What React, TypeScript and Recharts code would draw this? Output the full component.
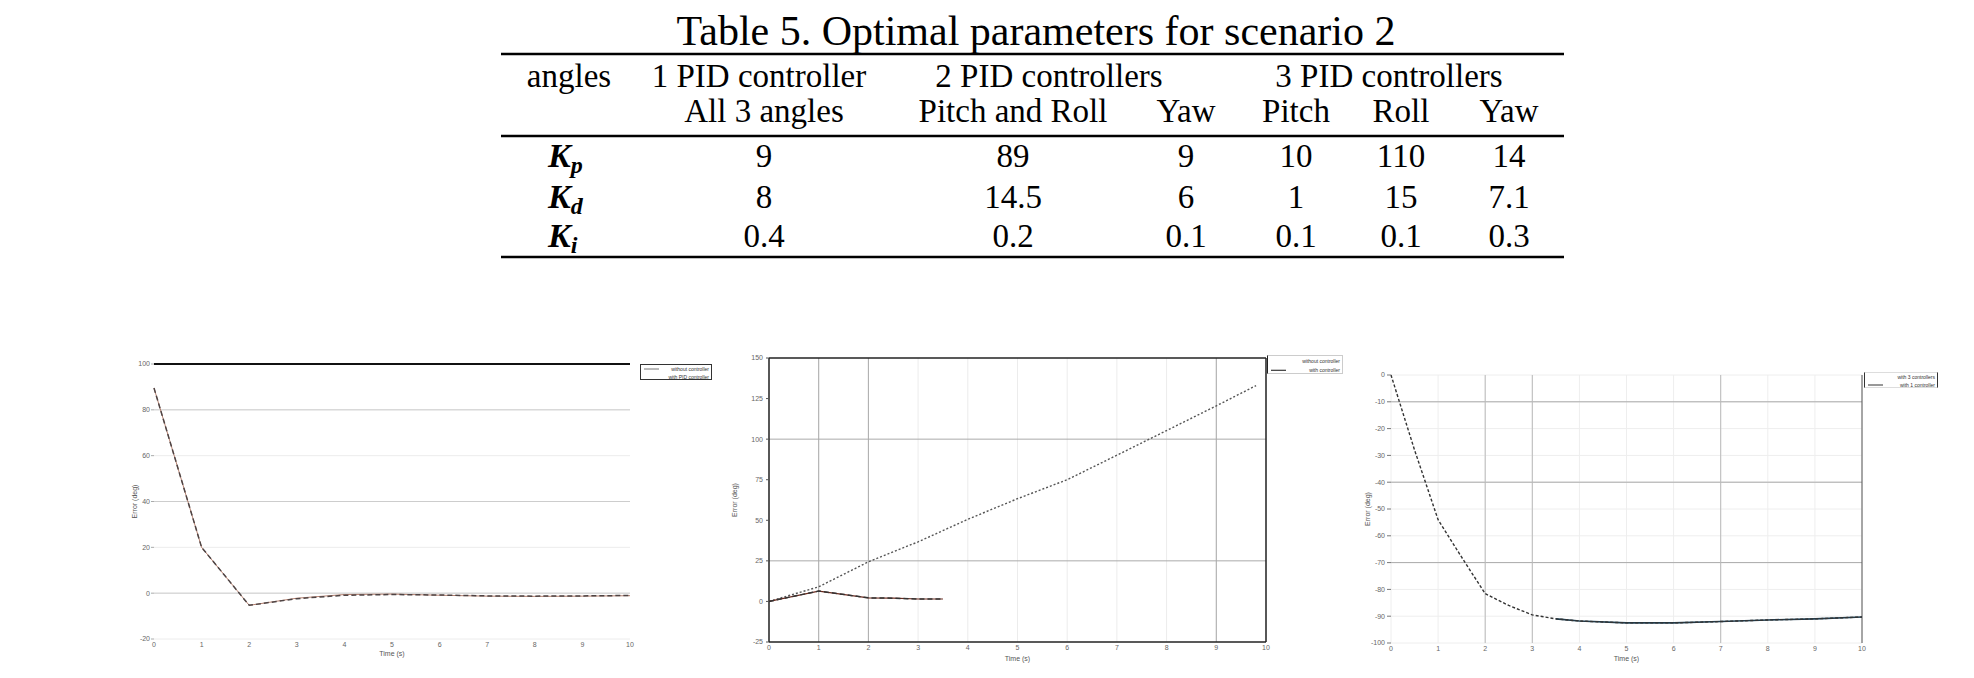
import React from 'react';
import { LineChart, Line, XAxis, YAxis, CartesianGrid, ReferenceLine } from 'recharts';

// ---------------- table content ----------------
const tableTitle = 'Table 5. Optimal parameters for scenario 2';
const rowHeaderLabel = 'angles';
const controllerGroups = ['1 PID controller', '2 PID controllers', '3 PID controllers'];
const columnLabels = ['All 3 angles', 'Pitch and Roll', 'Yaw', 'Pitch', 'Roll', 'Yaw'];
const gainSubscripts = ['p', 'd', 'i'];
const kpValues = ['9', '89', '9', '10', '110', '14'];
const kdValues = ['8', '14.5', '6', '1', '15', '7.1'];
const kiValues = ['0.4', '0.2', '0.1', '0.1', '0.1', '0.3'];
const gainValues = [kpValues, kdValues, kiValues];

// ---------------- chart data ----------------
const timeTicks = [0, 1, 2, 3, 4, 5, 6, 7, 8, 9, 10];

// figure 1
const fig1Time = [0, 1, 2, 3, 4, 5, 6, 7, 8, 9, 10];
const fig1Dashed = [89.5, 20, -5.3, -2.4, -0.9, -0.6, -0.8, -1.2, -1.3, -1.2, -1.0];
const fig1Solid = [89.5, 20, -5.3, -2.2, -0.6, -0.4, -0.9, -1.3, -1.4, -1.3, -1.1];
const fig1YTicks = [-20, 0, 20, 40, 60, 80, 100];
const fig1Legend = ['without controller', 'with PID controller'];

// figure 2
const fig2Time = [0, 1, 2, 3, 4, 5, 6, 7, 8, 9, 9.8];
const fig2Dotted = [0, 9, 24.4, 36.7, 50.6, 63.3, 75, 90.1, 105.3, 120.5, 133];
const fig2ShortTime = [0, 1, 2, 2.5, 3, 3.5];
const fig2Short = [0, 6.4, 2.2, 2.0, 1.5, 1.5];
const fig2YTicks = [-25, 0, 25, 50, 75, 100, 125, 150];
const fig2Legend = ['without controller', 'with controller'];

// figure 3
const fig3Time = [0, 0.5, 1, 1.5, 2, 2.5, 3, 3.5, 4, 5, 6, 7, 8, 9, 10];
const fig3Dashed = [0, -28, -54, -68, -81.6, -86, -89.5, -91, -91.8, -92.5, -92.5, -92, -91.4, -91, -90.3];
const fig3SolidTime = [3.5, 4, 5, 6, 7, 8, 9, 10];
const fig3Solid = [-91, -91.8, -92.5, -92.5, -92, -91.4, -91, -90.3];
const fig3YTicks = [-100, -90, -80, -70, -60, -50, -40, -30, -20, -10, 0];
const fig3Legend = ['with 3 controllers', 'with 1 controller'];

const toRows = (t: number[], v: number[]) => t.map((x, i) => ({ t: x, v: v[i] }));

// ---------------- layout / styles ----------------
const serif = '"Liberation Serif", "Times New Roman", serif';
const sans = '"Liberation Sans", Arial, sans-serif';
const tickStyle = { fontSize: 7, fill: '#666', fontFamily: sans };
const labelStyle = { fontSize: 7, fill: '#555', fontFamily: sans };
const colX = [764, 1013, 1186, 1296, 1401, 1509];
const groupX = [759, 1049, 1389];
const rowBaselines = [167, 208, 247];

function Table() {
  return (
    <svg width={1974} height={270} style={{ position: 'absolute', left: 0, top: 0 }}>
      <text x={1036} y={45} textAnchor="middle" fontFamily={serif} fontSize={42} fill="#000">
        {tableTitle}
      </text>
      <line x1={501} x2={1564} y1={54} y2={54} stroke="#000" strokeWidth={2.5} />
      <text x={569} y={87} textAnchor="middle" fontFamily={serif} fontSize={33}>{rowHeaderLabel}</text>
      {controllerGroups.map((g, i) => (
        <text key={g} x={groupX[i]} y={87} textAnchor="middle" fontFamily={serif} fontSize={33}>{g}</text>
      ))}
      {columnLabels.map((c, i) => (
        <text key={i} x={colX[i]} y={122} textAnchor="middle" fontFamily={serif} fontSize={33}>{c}</text>
      ))}
      <line x1={501} x2={1564} y1={136} y2={136} stroke="#000" strokeWidth={2.5} />
      {gainSubscripts.map((s, r) => (
        <g key={s}>
          <text x={548} y={rowBaselines[r]} fontFamily={serif} fontSize={34} fontWeight="bold" fontStyle="italic">
            K<tspan dy={6} fontSize={24}>{s}</tspan>
          </text>
          {gainValues[r].map((v, c) => (
            <text key={c} x={colX[c]} y={rowBaselines[r]} textAnchor="middle" fontFamily={serif} fontSize={33}>{v}</text>
          ))}
        </g>
      ))}
      <line x1={501} x2={1564} y1={257} y2={257} stroke="#000" strokeWidth={2.5} />
    </svg>
  );
}

type Entry = { label: string; line?: { stroke: string; dash?: string } };
function MiniLegend(props: { left: number; top: number; width: number; height: number; entries: Entry[]; border: React.CSSProperties }) {
  const { left, top, width, height, entries, border } = props;
  const rowH = height / entries.length;
  return (
    <div style={{ position: 'absolute', left, top, width, height, boxSizing: 'border-box', background: '#fff', ...border }}>
      <svg width={width} height={height} style={{ position: 'absolute', left: 0, top: 0 }}>
        {entries.map((e, i) => (
          <g key={i}>
            {e.line && (
              <line x1={3} x2={18} y1={rowH * i + rowH / 2} y2={rowH * i + rowH / 2} stroke={e.line.stroke} strokeDasharray={e.line.dash} strokeWidth={1} />
            )}
            <text x={width - 4} y={rowH * i + rowH / 2 + 2} textAnchor="end" fontSize={5} fontFamily={sans} fill="#333">
              {e.label}
            </text>
          </g>
        ))}
      </svg>
    </div>
  );
}

function Figure1() {
  return (
    <div style={{ position: 'absolute', left: 80, top: 350 }}>
      <LineChart width={570} height={310} margin={{ top: 14, right: 20, left: 0, bottom: 0 }}>
        <CartesianGrid vertical={false} stroke="#ececec" />
        <XAxis type="number" dataKey="t" domain={[0, 10]} ticks={timeTicks} height={21} tickLine={false} axisLine={false} tickSize={2} tickMargin={1} tick={tickStyle}
          label={{ value: 'Time (s)', position: 'insideBottom', offset: 4, style: labelStyle }} />
        <YAxis type="number" domain={[-20, 100]} ticks={fig1YTicks} width={74} tickSize={3} tickMargin={1} axisLine={false} tickLine={{ stroke: '#aaa' }} tick={tickStyle}
          label={{ value: 'Error (deg)', angle: -90, position: 'center', dx: 18, style: labelStyle }} />
        <ReferenceLine y={80} stroke="#cdcdcd" />
        <ReferenceLine y={40} stroke="#cdcdcd" />
        <ReferenceLine y={0} stroke="#cdcdcd" />
        <ReferenceLine y={100} stroke="#111" strokeWidth={2} />
        <Line data={toRows(fig1Time, fig1Solid)} dataKey="v" stroke="#a2604a" strokeWidth={0.8} dot={false} isAnimationActive={false} />
        <Line data={toRows(fig1Time, fig1Dashed)} dataKey="v" stroke="#4e4444" strokeWidth={1.5} strokeDasharray="5 3" dot={false} isAnimationActive={false} />
      </LineChart>
    </div>
  );
}

function Figure2() {
  return (
    <div style={{ position: 'absolute', left: 700, top: 340 }}>
      <LineChart width={580} height={325} margin={{ top: 18, right: 14, left: 0, bottom: 0 }}>
        <CartesianGrid horizontal={false} stroke="#ececec" />
        <XAxis type="number" dataKey="t" domain={[0, 10]} ticks={timeTicks} height={23} tickLine={false} axisLine={false} tickSize={2} tickMargin={1} tick={tickStyle}
          label={{ value: 'Time (s)', position: 'insideBottom', offset: 4, style: labelStyle }} />
        <YAxis type="number" domain={[-25, 150]} ticks={fig2YTicks} width={69} tickSize={3} tickMargin={3} axisLine={false} tickLine={{ stroke: '#555' }} tick={tickStyle}
          label={{ value: 'Error (deg)', angle: -90, position: 'center', dx: 0, style: labelStyle }} />
        <ReferenceLine x={1} stroke="#aaa" />
        <ReferenceLine x={2} stroke="#aaa" />
        <ReferenceLine x={9} stroke="#aaa" />
        <ReferenceLine y={100} stroke="#aaa" />
        <ReferenceLine y={25} stroke="#aaa" />
        <ReferenceLine x={0} stroke="#222" strokeWidth={1.5} />
        <ReferenceLine x={10} stroke="#222" strokeWidth={1.5} />
        <ReferenceLine y={150} stroke="#222" strokeWidth={1.5} />
        <ReferenceLine y={-25} stroke="#222" strokeWidth={1.5} />
        <Line data={toRows(fig2Time, fig2Dotted)} dataKey="v" stroke="#555" strokeWidth={1.4} strokeDasharray="2 2" dot={false} isAnimationActive={false} />
        <Line data={toRows(fig2ShortTime, fig2Short)} dataKey="v" stroke="#6b2a1e" strokeWidth={1.2} dot={false} isAnimationActive={false} />
        <Line data={toRows(fig2ShortTime, fig2Short)} dataKey="v" stroke="#333" strokeWidth={1.5} strokeDasharray="5 3" dot={false} isAnimationActive={false} />
      </LineChart>
    </div>
  );
}

function Figure3() {
  return (
    <div style={{ position: 'absolute', left: 1320, top: 350 }}>
      <LineChart width={560} height={315} margin={{ top: 25, right: 18, left: 0, bottom: 0 }}>
        <CartesianGrid stroke="#eeeeee" />
        <XAxis type="number" dataKey="t" domain={[0, 10]} ticks={timeTicks} height={22} tickLine={false} axisLine={false} tickSize={2} tickMargin={1} tick={tickStyle}
          label={{ value: 'Time (s)', position: 'insideBottom', offset: 4, style: labelStyle }} />
        <YAxis type="number" domain={[-100, 0]} ticks={fig3YTicks} width={71} tickSize={4} tickMargin={2} axisLine={false} tickLine={{ stroke: '#777' }} tick={tickStyle}
          label={{ value: 'Error (deg)', angle: -90, position: 'center', dx: 12, style: labelStyle }} />
        <ReferenceLine y={-10} stroke="#aaa" />
        <ReferenceLine y={-40} stroke="#aaa" />
        <ReferenceLine y={-70} stroke="#aaa" />
        <ReferenceLine x={2} stroke="#bbb" />
        <ReferenceLine x={3} stroke="#bbb" />
        <ReferenceLine x={7} stroke="#bbb" />
        <ReferenceLine x={10} stroke="#555" />
        <Line data={toRows(fig3SolidTime, fig3Solid)} dataKey="v" stroke="#1f3d4f" strokeWidth={1.6} dot={false} isAnimationActive={false} />
        <Line data={toRows(fig3Time, fig3Dashed)} dataKey="v" stroke="#333" strokeWidth={1.4} strokeDasharray="3 2" dot={false} isAnimationActive={false} />
      </LineChart>
    </div>
  );
}

export default function App() {
  return (
    <div style={{ position: 'absolute', left: 0, top: 0, width: 1974, height: 678, background: '#fff', overflow: 'hidden' }}>
      <Table />
      <Figure1 />
      <Figure2 />
      <Figure3 />
      <MiniLegend left={640} top={364} width={72} height={16} border={{ border: '1px solid #333' }}
        entries={[{ label: fig1Legend[0], line: { stroke: '#777' } }, { label: fig1Legend[1] }]} />
      <MiniLegend left={1267} top={355} width={76} height={19} border={{ borderLeft: '1.5px solid #222', borderTop: '1px solid #ccc', borderRight: '1px solid #ccc', borderBottom: '1px solid #ccc' }}
        entries={[{ label: fig2Legend[0] }, { label: fig2Legend[1], line: { stroke: '#111' } }]} />
      <MiniLegend left={1864} top={372} width={74} height={16} border={{ borderLeft: '1.5px solid #333', borderRight: '1.5px solid #333', borderTop: '1px solid #ddd', borderBottom: '1px solid #ddd' }}
        entries={[{ label: fig3Legend[0] }, { label: fig3Legend[1], line: { stroke: '#333' } }]} />
    </div>
  );
}
